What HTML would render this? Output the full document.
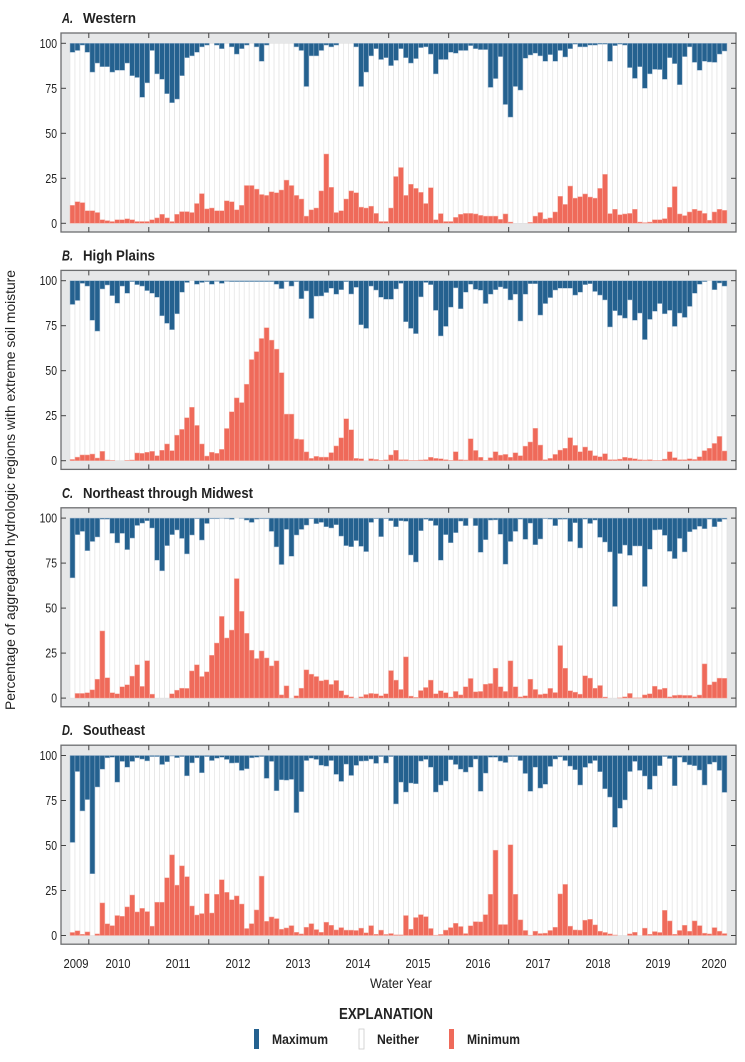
<!DOCTYPE html>
<html><head><meta charset="utf-8"><style>
html,body{margin:0;padding:0;background:#fff;}
svg{display:block;}
text{font-family:"Liberation Sans Narrow","Liberation Sans",sans-serif;fill:#222;}
</style></head><body>
<svg id="s" width="745" height="1062" viewBox="0 0 745 1062" xmlns="http://www.w3.org/2000/svg">
<text x="15" y="490" font-size="14" text-anchor="middle" transform="rotate(-90 15 490)" textLength="440" lengthAdjust="spacingAndGlyphs">Percentage of aggregated hydrologic regions with extreme soil moisture</text>
<g font-size="13" text-anchor="middle">
<text x="76" y="968" textLength="25" lengthAdjust="spacingAndGlyphs">2009</text><text x="118" y="968" textLength="25" lengthAdjust="spacingAndGlyphs">2010</text><text x="178" y="968" textLength="25" lengthAdjust="spacingAndGlyphs">2011</text><text x="238" y="968" textLength="25" lengthAdjust="spacingAndGlyphs">2012</text><text x="298" y="968" textLength="25" lengthAdjust="spacingAndGlyphs">2013</text><text x="358" y="968" textLength="25" lengthAdjust="spacingAndGlyphs">2014</text><text x="418" y="968" textLength="25" lengthAdjust="spacingAndGlyphs">2015</text><text x="478" y="968" textLength="25" lengthAdjust="spacingAndGlyphs">2016</text><text x="538" y="968" textLength="25" lengthAdjust="spacingAndGlyphs">2017</text><text x="598" y="968" textLength="25" lengthAdjust="spacingAndGlyphs">2018</text><text x="658" y="968" textLength="25" lengthAdjust="spacingAndGlyphs">2019</text><text x="714" y="968" textLength="25" lengthAdjust="spacingAndGlyphs">2020</text>
</g>
<text x="401" y="988" font-size="14" text-anchor="middle" textLength="62" lengthAdjust="spacingAndGlyphs">Water Year</text>
<text x="386" y="1019" font-size="16" font-weight="bold" text-anchor="middle" textLength="94" lengthAdjust="spacingAndGlyphs">EXPLANATION</text>
<rect x="254" y="1029" width="5" height="20" fill="#24618f"/>
<text x="272" y="1044" font-size="14" font-weight="bold" textLength="56" lengthAdjust="spacingAndGlyphs">Maximum</text>
<rect x="359" y="1029" width="5" height="20" fill="#fff" stroke="#ccc" stroke-width="0.8"/>
<text x="377" y="1044" font-size="14" font-weight="bold" textLength="42" lengthAdjust="spacingAndGlyphs">Neither</text>
<rect x="449" y="1029" width="5" height="20" fill="#ef6a5a"/>
<text x="467" y="1044" font-size="14" font-weight="bold" textLength="53" lengthAdjust="spacingAndGlyphs">Minimum</text>
</svg>
<script>
var P=[
{t:"A.",n:"Western",w:53,
mx:[95,96,99,95,84,89,87,87,84,85,85,89,82,81,70,78,96,83,80,72,67,69,82,92,93,95,98,99,100,99,97,100,98,94,97,99,100,98,90,99,100,100,100,100,100,98,96,76,93,93,96,99,98,99,100,100,100,98,76,84,93,97,
91,92,87.6,90.5,97,92,89,91.5,97.6,98,94,83,91,91,95,94.5,96,96,98.7,97,96.5,96.5,75.5,80.4,92.6,66,59,76,74,91.7,93.5,94.5,93,90,93.7,90,96,92.4,97,99.5,98,98,99,99,99.5,99.5,90,98.7,99.5,99,86.5,80.5,87,75,83,85.5,85.4,80,92,88.7,77,92.6,98,89.4,85,90,89.6,89.4,94,95.7],
mn:[10,12,11.5,7,7,6,2,1.5,1,2,2,2.5,2,1,1,1,2,3,5,3,1,5,6.5,6.5,6,11,16.5,8,8.5,7,7,12.5,12,7.5,10,21,21,19,16,15.5,17.5,17,18.5,24,21,15.5,13.5,4,7.5,8.5,18,38.5,20,6,7,13.5,18,17,9,8.5,9.5,5.5,1,1,8.5,26,
31,15.5,21.7,19.4,17.2,11,19.8,2,5.4,1,1,3.3,5,5.5,5.5,5.2,4.4,4,4,4,2.2,5.2,0.7,0,0,0,0.5,4,6,2.4,3,6.3,15,10.5,20.7,14,14.8,16.3,14.6,14,19.4,27.2,5.4,7.8,4.8,5.2,5.5,7.8,0.7,0.4,0.7,2,2,2.6,8.9,20.4,5.2,4.3,6.3,7.8,7,5.5,1.7,6.3,7.8,7.2]},
{t:"B.",n:"High Plains",w:72,
mx:[86.8,89,98.5,97,78,72,95.4,97.6,91.7,87.5,97,93,99.5,97.8,97,94.5,93,90.8,80.5,76.3,72.8,81.6,93.6,99,100,98,99,99.5,98,99.6,98.5,99.6,99.5,99.5,99.5,99.5,99.5,99.5,99.5,99.5,99.5,
98,95.6,99.5,97,99.5,90,94.3,79,91.4,91.5,93.4,95.8,92.5,95,99.5,92.6,96.3,75.5,73.5,97,94.8,90.8,89.7,89.7,
95.4,98.5,77.2,73.5,70.6,91,99,97.8,83.5,69.3,74.6,85.3,96,84.4,93.6,98,95.2,94.7,87.3,92.5,95,96.5,95.6,89.3,92.5,77.6,92.5,98.3,98.3,80.9,87.3,90.6,94.8,95.8,95.8,95.8,92,93.6,97.8,98.3,94,92,89.3,74.3,83.3,80.7,79.2,89.3,78,82,67.3,78.5,83,87.3,81.6,83.5,74.6,82,79.6,85.7,93,98,99.5,100,95,98.7,97],
mn:[0.7,2,3.2,3.2,3.7,1.5,5.2,0.4,0.2,0,0,0.2,0.4,4.3,4.1,4.7,5.2,2.8,5.8,9.3,5.6,14.2,17.4,23.9,29.7,19.6,9.3,2.6,4.7,4.1,6.3,17.9,27.2,34.9,32.3,42.5,56.2,60.6,67.9,73.9,67,62,48.9,25.9,25.9,12.1,11.8,4.9,1.3,2.4,2,2,4.5,8.2,12.7,23.3,17.2,1.3,1.1,0,1.1,0.7,0.2,0.5,3.2,5.8,
0.6,0.6,0.2,0.2,0.4,0.6,1.9,1.3,1.1,0.6,0.2,5,0.6,0.4,12.2,5.7,1.9,0.2,1.7,5,3.1,3.5,1.9,4.4,2.8,8.1,10.4,18,8.7,0.6,1.3,3.5,5.9,6.9,12.8,8.5,5,7.6,5.6,2.8,2.2,3.9,0.6,0.6,0.9,1.9,1.5,1.1,0.6,0.4,0.6,0.2,0.2,0.9,5,1.7,0.6,0.6,1.1,0.7,2.2,5.6,6.9,9.6,13.5,5.4]},
{t:"C.",n:"Northeast through Midwest",w:170,
mx:[66.8,90.8,92.6,81.9,87,89.5,99.4,99.4,91.5,86.2,91.5,82.5,88.9,95.9,97.2,98.5,94.5,76.6,70.7,84.7,90.8,93.4,88.7,80.1,90.6,99.6,87.8,97,99.6,99.6,99.8,99.6,99.3,100,99.8,98.9,97.6,99.4,99.6,99.6,92.6,84,74.2,93.7,78.8,90.6,93.7,96.1,99.6,96.9,97.6,95.2,94.5,96.3,90,84.7,84.1,87.5,84.3,81.4,97.6,99.6,89.7,99.6,98.5,95.2,
98.5,98.2,79.5,75.6,93,99.3,98.5,95.9,76.6,90.8,86.3,91.9,98.3,95.8,100,95.8,81,88,98.9,99,91,74.4,87,92.6,99.4,88.2,97.2,85.2,88.4,99.6,99.4,95.8,99.3,99.4,87,97.4,83.4,99.4,97,98.9,89.3,86.7,81.2,50.9,80.3,85,79.3,84.5,84.5,62,82.7,93.4,93.6,90.4,81.5,77.5,88.7,81.2,92.4,93.7,95.4,94.1,99.4,95.2,98,99.4],
mn:[0,2.6,2.6,3,4.6,10.5,37.3,11.3,3,2.4,6.3,7.4,12.2,18.5,6.5,20.8,2.2,0,0,0,2.4,4.4,5.5,5.4,15.1,18.5,12,14.6,23.8,30.6,45.4,33.4,37.8,66.4,48.2,36,26.6,22,26.2,22.3,17.9,20.7,1.8,6.8,0,1.3,5.5,15.7,13.3,12,9.6,10.1,7.6,9.8,4.1,1.7,0.7,0,0.7,2,2.6,2.4,1.3,2.4,15.3,10,
4.8,22.9,1.1,0.4,4.2,5.9,10,2.4,4.1,3,0.6,3.7,1.8,6.3,10.9,3.5,3.7,7.7,8.1,16.6,6.3,3.7,20.7,6.3,0.7,1.3,10.5,4.8,2,2.4,5.4,3.1,29.2,16.6,4.1,3.3,2.2,12.4,11.1,5.5,7,0.6,0,0,0.2,0.7,2.6,0.2,0.2,1.8,2.4,6.6,4.8,5.5,0.7,1.5,1.7,1.5,1.5,0.7,1.7,19,7.4,9,11.1,11]},
{t:"D.",n:"Southeast",w:62,
mx:[51.7,91.1,69.2,75.5,34.3,82.5,92.4,98.7,99,85.2,96.7,93.5,96.7,98.7,98,97,99.4,99.4,95,96.5,99.7,98.8,99.4,88.7,95.9,98.7,90.4,99.4,97.2,98.5,99,97.8,95.8,95.9,91.7,92.6,98.7,99,99.4,87.3,96.7,80.4,86.5,86.3,86.7,68.3,79.9,97.2,98.5,97.8,94.6,94.1,97.2,89.5,85.6,95.2,88.9,94.5,96.9,97,98,95.6,99.4,95.8,99.4,73.1,
85.2,79.7,84.7,84.3,96.9,97.8,93.5,79.7,83.6,85.8,97.6,95,92.4,90.8,93.5,98,80.1,90.2,99,99,96.9,96.1,99.4,99.4,97.2,90,80.1,93.5,81.9,84,93.9,98,99.2,97.2,94.1,92.1,83.6,93.4,95.6,97.2,91,81.5,76.9,60.1,70.7,75.3,91.1,96.7,91.7,88.6,81.2,88.6,94.3,99.4,98.3,83.2,99,96.3,94.8,94.3,91.9,83.6,95.2,96.3,91.7,79.5],
mn:[1.7,2.6,0.7,2,0,0.9,18.1,6.5,5.5,11.1,10.7,15.9,22.5,13.1,15.1,13.3,5.2,18.5,18.5,32.1,44.8,28,38.7,32.7,16.4,11.4,12.2,23.2,12.5,22.9,31,24,19.9,22,17.5,3.9,6.6,14.2,33,7.9,10.3,9.4,3.5,4.2,5.5,1.8,0.9,4.6,6.6,3.3,1.8,7.4,5.7,3.1,4.4,3,3,2.8,4.1,1.5,5.5,0.7,3,0.6,1.1,0.4,
0.4,11.1,3.5,10,11.6,10.5,3.9,0.2,0.6,3,4.4,6.8,5,1.1,5.4,7.7,7.6,11.6,22.9,47.4,6.1,6.1,50.4,22.9,8.7,2.8,0.2,2.4,1.1,1.3,2.8,4.6,23.1,28.4,5.2,3.1,3,8.5,9,5.9,2.4,1.7,0.9,0.3,0,0,0.9,1.8,0,4.1,0.7,2.2,1.7,14,8.1,0.7,2.8,5.7,2.4,8.1,5.5,1.3,0.9,4.4,2.4,1.1]}
];
var NS="http://www.w3.org/2000/svg",s=document.getElementById("s");
function el(n,a,txt){var e=document.createElementNS(NS,n);for(var k in a)e.setAttribute(k,a[k]);if(txt!=null)e.textContent=txt;s.appendChild(e);return e;}
var BW=4.977,X0=70;
P.forEach(function(p,i){
 var off=237.4*i, top=33+off, bot=232+off, y100=43.3+off, y0=223.3+off, sc=1.8;
 el("rect",{x:61,y:top,width:675,height:bot-top,fill:"#e6e7e8",stroke:"none"});
 for(var k=0;k<132;k++){
  var x=X0+BW*k;
  el("rect",{x:x.toFixed(2),y:y100,width:BW.toFixed(2),height:180,fill:"#fff",stroke:"#e0e0e0","stroke-width":0.6});
 }
 for(var k=0;k<132;k++){
  var x=X0+BW*k, mx=p.mx[k], mn=p.mn[k];
  if(mx!=null && mx<100){var h=(100-mx)*sc; if(h>0.3) el("rect",{x:x.toFixed(2),y:y100,width:BW.toFixed(2),height:h.toFixed(2),fill:"#24618f",stroke:"#9db7cf","stroke-width":0.5});}
  if(mn!=null && mn>0){var h2=mn*sc; if(h2>0.3) el("rect",{x:x.toFixed(2),y:(y0-h2).toFixed(2),width:BW.toFixed(2),height:h2.toFixed(2),fill:"#ef6a5a",stroke:"#f6b2a8","stroke-width":0.5});}
 }
 el("rect",{x:61,y:top,width:675,height:bot-top,fill:"none",stroke:"#6d6e70","stroke-width":1.3});
 for(var j=0;j<=4;j++){
  var yy=y0-j*25*sc, lab=String(j*25);
  el("line",{x1:61,y1:yy,x2:66,y2:yy,stroke:"#444","stroke-width":1});
  el("line",{x1:731,y1:yy,x2:736,y2:yy,stroke:"#444","stroke-width":1});
  el("text",{x:57,y:yy+4.5,"font-size":13,"text-anchor":"end",textLength:lab.length*5.8,lengthAdjust:"spacingAndGlyphs"},lab);
 }
 for(var j=0;j<11;j++){
  var xx=88.8+59.98*j;
  el("line",{x1:xx,y1:top,x2:xx,y2:top+5,stroke:"#444","stroke-width":1});
  el("line",{x1:xx,y1:bot-5,x2:xx,y2:bot,stroke:"#444","stroke-width":1});
 }
 el("text",{x:62,y:23+off,"font-size":15,"font-weight":"bold","font-style":"italic",textLength:11,lengthAdjust:"spacingAndGlyphs"},p.t);
 el("text",{x:83,y:23+off,"font-size":15,"font-weight":"bold",textLength:p.w,lengthAdjust:"spacingAndGlyphs"},p.n);
});
</script>
</body></html>
